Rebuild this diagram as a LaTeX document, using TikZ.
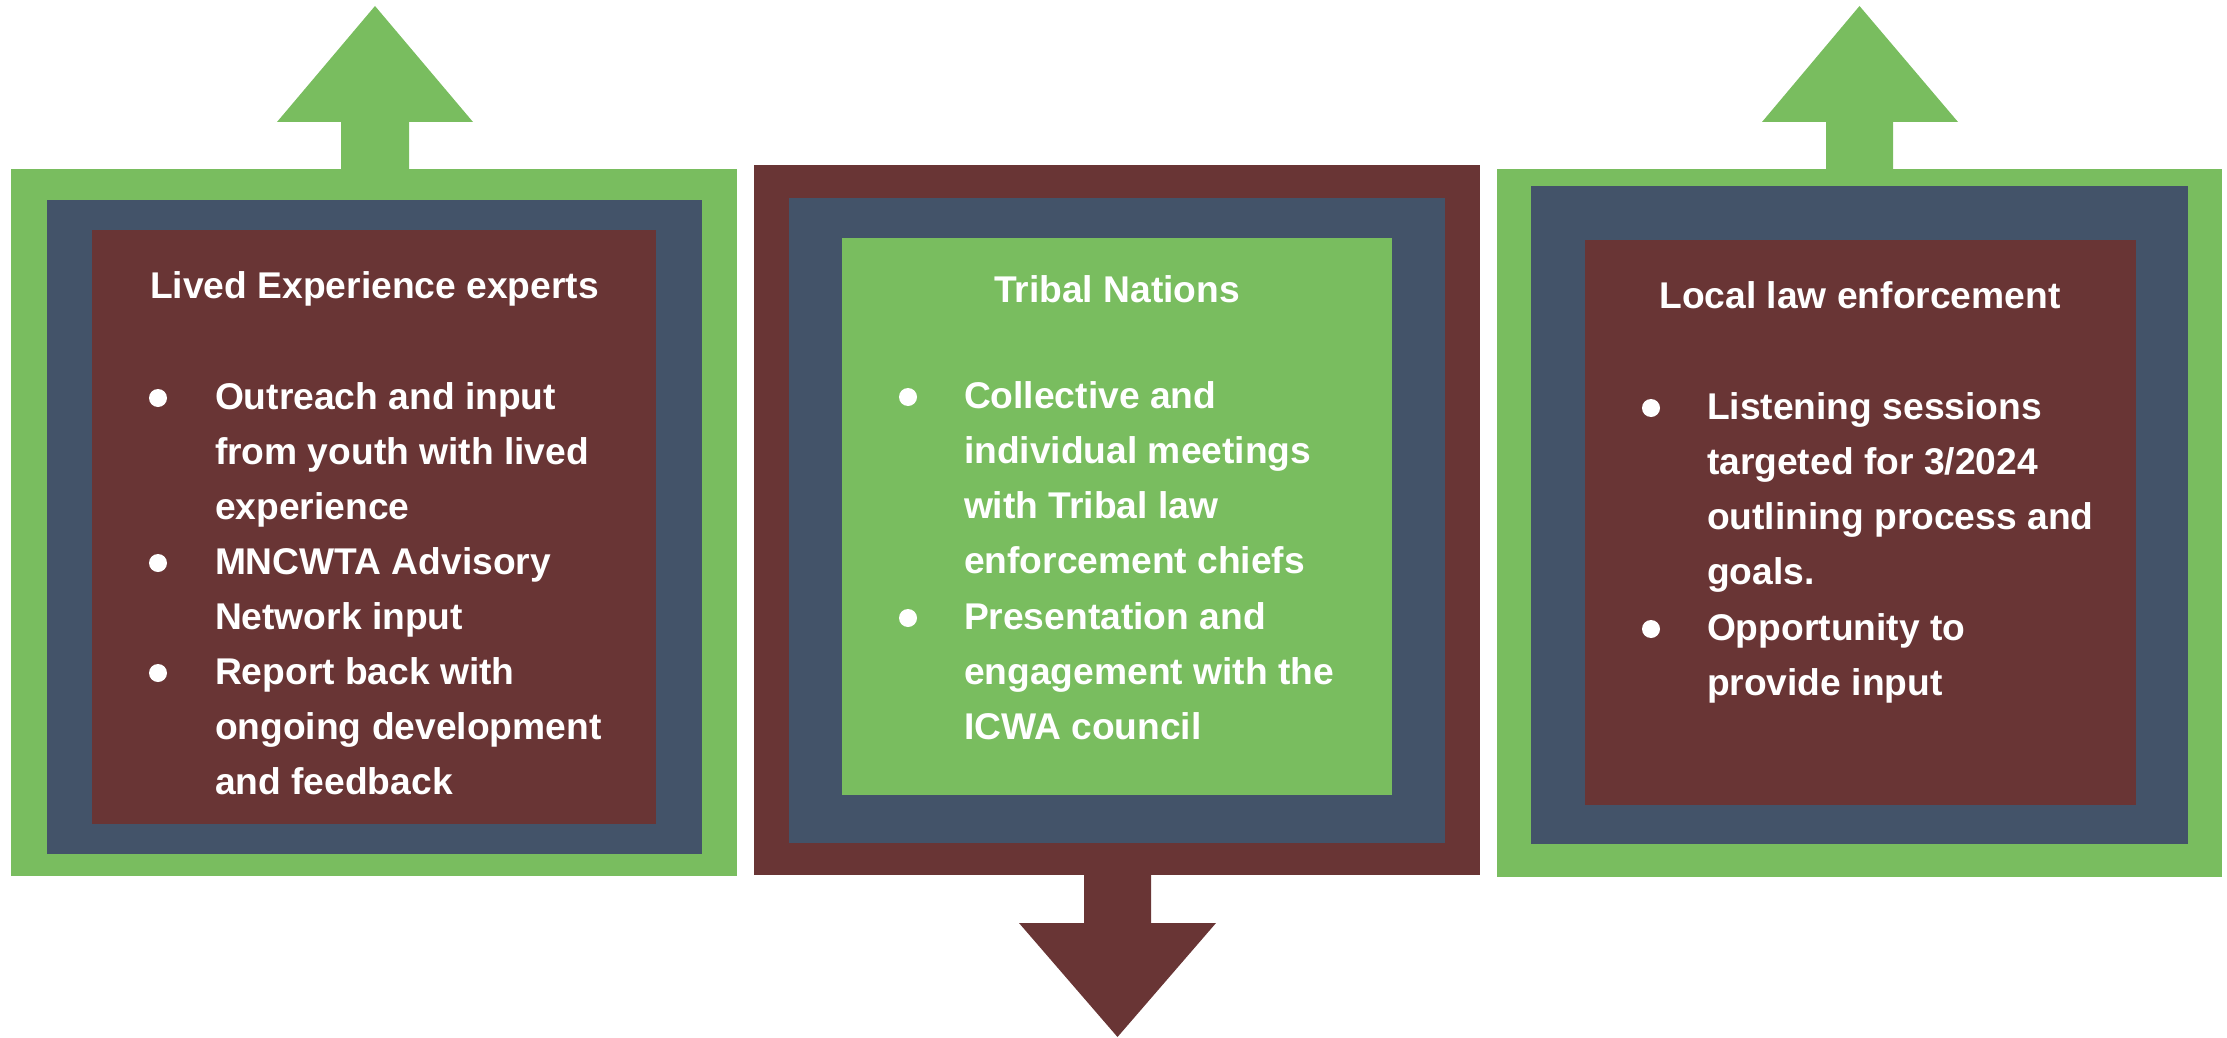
\documentclass[tikz,border=0pt]{standalone}
\usepackage{fontspec}
\setmainfont{Liberation Sans}
\definecolor{grn}{HTML}{79BD5F}
\definecolor{slate}{HTML}{435369}
\definecolor{maroon}{HTML}{693535}
\begin{document}
\begin{tikzpicture}[x=1pt,y=-1pt,
  box/.style={rectangle,draw=none,inner sep=0pt,outer sep=0pt},
  txt/.style={text=white,inner sep=0pt,outer sep=0pt,font=\fontsize{37.2}{55.2}\selectfont\bfseries},
  bul/.style={circle,fill=white,draw=none,inner sep=0pt,minimum size=18pt}]
\useasboundingbox (0,0) rectangle (2227,1038);
% ---------- left panel ----------
\fill[grn] (341,172) -- (341,122) -- (277,122) -- (375,6) -- (473,122) -- (409,122) -- (409,172) -- cycle;
\node[box,fill=grn,minimum width=726pt,minimum height=707pt] (Lo) at (374,522.5) {};
\node[box,fill=slate,minimum width=655pt,minimum height=654pt] (Lm) at (374.5,527) {};
\node[box,fill=maroon,minimum width=564pt,minimum height=594pt] (Li) at (374,527) {};
\node[txt,anchor=base] (Lt) at (374.5,298) {Lived Experience experts};
\node[bul] (Lb1) at (158,398) {};
\node[txt,anchor=base west] (L1) at (215,409) {\parbox[t]{460pt}{Outreach and input\\from youth with lived\\experience}};
\node[bul] (Lb2) at (158,563) {};
\node[txt,anchor=base west] (L2) at (215,574) {\parbox[t]{460pt}{MNCWTA Advisory\\Network input}};
\node[bul] (Lb3) at (158,673) {};
\node[txt,anchor=base west] (L3) at (215,684) {\parbox[t]{460pt}{Report back with\\ongoing development\\and feedback}};
% ---------- middle panel ----------
\fill[maroon] (1084,870) -- (1084,923) -- (1019,923) -- (1117.5,1037) -- (1216,923) -- (1151,923) -- (1151,870) -- cycle;
\node[box,fill=maroon,minimum width=726pt,minimum height=710pt] (Mo) at (1117,520) {};
\node[box,fill=slate,minimum width=656pt,minimum height=645pt] (Mm) at (1117,520) {};
\node[box,fill=grn,minimum width=550pt,minimum height=557pt] (Mi) at (1117,516.5) {};
\node[txt,anchor=base] (Mt) at (1117,302) {Tribal Nations};
\node[bul] (Mb1) at (908,397) {};
\node[txt,anchor=base west] (M1) at (964,408) {\parbox[t]{420pt}{Collective and\\individual meetings\\with Tribal law\\enforcement chiefs}};
\node[bul] (Mb2) at (908,618) {};
\node[txt,anchor=base west] (M2) at (964,629) {\parbox[t]{420pt}{Presentation and\\engagement with the\\ICWA council}};
% ---------- right panel ----------
\fill[grn] (1826,172) -- (1826,122) -- (1762,122) -- (1859.5,6) -- (1958,122) -- (1893,122) -- (1893,172) -- cycle;
\node[box,fill=grn,minimum width=725pt,minimum height=708pt] (Ro) at (1859.5,523) {};
\node[box,fill=slate,minimum width=657pt,minimum height=658pt] (Rm) at (1859.5,515) {};
\node[box,fill=maroon,minimum width=551pt,minimum height=565pt] (Ri) at (1860,522.5) {};
\node[txt,anchor=base] (Rt) at (1860,308) {Local law enforcement};
\node[bul] (Rb1) at (1651,408) {};
\node[txt,anchor=base west] (R1) at (1707,419) {\parbox[t]{420pt}{Listening sessions\\targeted for 3/2024\\outlining process and\\goals.}};
\node[bul] (Rb2) at (1651,629) {};
\node[txt,anchor=base west] (R2) at (1707,640) {\parbox[t]{420pt}{Opportunity to\\provide input}};
\end{tikzpicture}
\end{document}
